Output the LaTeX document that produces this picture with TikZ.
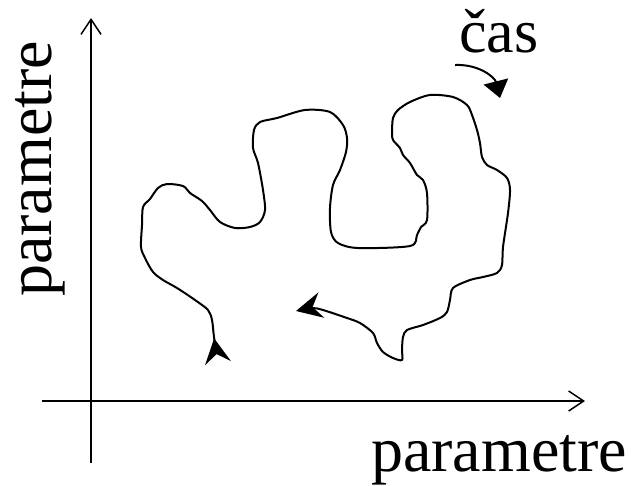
\documentclass[tikz,border=0pt]{standalone}
\usepackage{fontspec}
\setmainfont{Liberation Serif}
\usetikzlibrary{arrows.meta}
\begin{document}
\begin{tikzpicture}[x=1pt,y=-1pt,
  axis/.style={line width=1.8pt,-{Straight Barb[length=15pt,width=20pt,line width=1.5pt]}},
  traj/.style={line width=2pt,line join=round},
  lbl/.style={inner sep=0pt,font=\fontsize{62}{62}\selectfont},
  biglbl/.style={inner sep=0pt,font=\fontsize{64}{64}\selectfont}]
\useasboundingbox (0,0) rectangle (631,485);
% axes
\coordinate (yb) at (91,463);
\coordinate (yt) at (91,18);
\coordinate (xl) at (42,401);
\coordinate (xr) at (585,401);
\draw[axis] (yb) -- (yt);
\draw[axis] (xl) -- (xr);
% labels
\node[biglbl,anchor=base west] (xlab) at (371,471) {parametre};
\node[biglbl,anchor=base west,rotate=90] (ylab) at (51,297) {parametre};
\node[lbl,anchor=base west] (cas) at (459,52) {čas};
% time arrow
\coordinate (ca) at (455,65);
\coordinate (cb) at (500,98);
\draw[line width=2pt,-{Triangle[length=17pt,width=25pt]}] (ca) .. controls (480,64) and (495,78) .. (cb);
% trajectory
\draw[traj,{Stealth[reversed,length=25pt,width=26pt,inset=9pt]}-{Stealth[length=26pt,width=26pt,inset=9pt]}]
  plot[smooth,tension=0.5] coordinates {
(218,363) (214,337) (212,320) (208,310) (195,300) (177,288) (163,280) (153,272)
(145,258) (141,247) (142,225) (143,207) (150,199) (158,188) (167,184) (183,186)
(190,193) (202,201) (210,210) (220,222) (235,228) (250,227) (260,222) (265,210)
(263,190) (258,163) (253,148) (254,130) (260,122) (277,118) (305,110) (330,112)
(343,125) (347,138) (346,152) (340,170) (333,185) (330,208) (331,232) (338,243)
(358,248) (410,246) (417,235) (421,227) (427,220) (427,193) (423,180) (417,175)
(410,163) (403,155) (400,148) (393,140) (392,133) (393,118) (398,110) (410,102)
(430,95) (453,97) (467,105) (472,115) (477,130) (480,143) (482,157) (487,165)
(497,170) (507,178) (510,190) (508,213) (503,247) (502,265) (497,273) (483,277)
(470,280) (453,288) (450,300) (447,312) (440,318) (423,325) (407,330) (403,337)
(402,350) (402,360) (393,358) (383,352) (377,343) (373,333) (360,323) (347,318)
(323,310) (312,308) (296,311)};
\end{tikzpicture}
\end{document}
